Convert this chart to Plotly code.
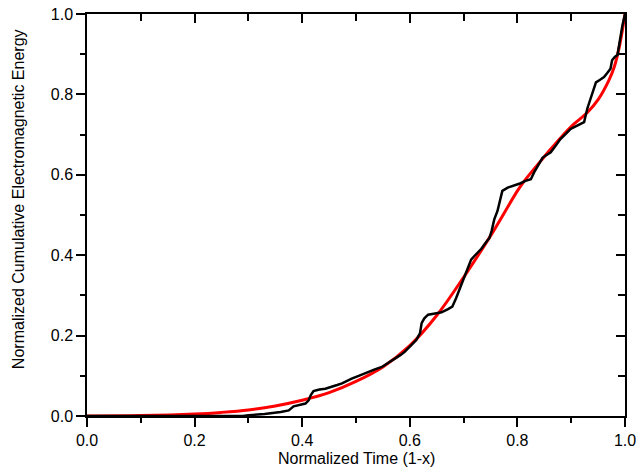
import plotly.graph_objects as go

# Red fitted curve
fit_x = [0.0, 0.1, 0.2, 0.25, 0.3, 0.35, 0.4, 0.45, 0.5, 0.55, 0.6, 0.65, 0.7,
         0.75, 0.8, 0.813, 0.85, 0.862, 0.9, 0.93, 0.95, 0.97, 0.98, 0.99, 1.0]
fit_y = [0.0, 0.001, 0.005, 0.009, 0.015, 0.025, 0.039, 0.058, 0.086, 0.122, 0.175, 0.25, 0.345,
         0.448, 0.56, 0.585, 0.645, 0.664, 0.72, 0.755, 0.787, 0.835, 0.868, 0.922, 1.0]

obs_x = [0.0, 0.29, 0.30, 0.33, 0.36, 0.375, 0.384, 0.395, 0.406, 0.412, 0.416, 0.421,
         0.432, 0.443, 0.455, 0.465, 0.474, 0.483, 0.492, 0.505, 0.515, 0.523, 0.535,
         0.548, 0.558, 0.566, 0.572, 0.583, 0.591, 0.597, 0.605, 0.612, 0.619, 0.622,
         0.627, 0.634, 0.647, 0.659, 0.671, 0.679, 0.686, 0.692, 0.697, 0.702, 0.708,
         0.714, 0.72, 0.726, 0.733, 0.739, 0.748, 0.752, 0.757, 0.763, 0.768, 0.772,
         0.782, 0.794, 0.806, 0.815, 0.825, 0.831, 0.838, 0.847, 0.855, 0.862, 0.871,
         0.88, 0.89, 0.899, 0.912, 0.924, 0.93, 0.936, 0.942, 0.946, 0.953, 0.961,
         0.967, 0.973, 0.976, 0.981, 0.986, 0.991, 0.995, 1.0]
obs_y = [0.0, 0.0, 0.002, 0.005, 0.01, 0.014, 0.024, 0.027, 0.031, 0.039, 0.052, 0.062,
         0.066, 0.068, 0.072, 0.077, 0.081, 0.088, 0.093, 0.1, 0.106, 0.11, 0.116,
         0.122, 0.13, 0.137, 0.143, 0.152, 0.16, 0.168, 0.178, 0.189, 0.206, 0.231,
         0.243, 0.252, 0.255, 0.258, 0.266, 0.272, 0.293, 0.314, 0.33, 0.348, 0.37,
         0.389, 0.398, 0.406, 0.416, 0.427, 0.443, 0.46, 0.489, 0.51, 0.535, 0.56,
         0.568, 0.573, 0.579, 0.585, 0.589, 0.606, 0.622, 0.643, 0.65, 0.656, 0.672,
         0.689, 0.702, 0.714, 0.723, 0.731, 0.765, 0.79, 0.815, 0.83, 0.836, 0.843,
         0.853, 0.864, 0.885, 0.893, 0.898, 0.944, 0.97, 1.0]

tick_vals = [0.0, 0.2, 0.4, 0.6, 0.8, 1.0]
tick_text = ["0.0", "0.2", "0.4", "0.6", "0.8", "1.0"]

FONT = "Liberation Sans, Arial, sans-serif"

fig = go.Figure()
fig.add_trace(go.Scatter(x=fit_x, y=fit_y, mode="lines", line=dict(color="#ff0000", width=3),
                         line_shape="spline", showlegend=False, hoverinfo="skip"))
fig.add_trace(go.Scatter(x=obs_x, y=obs_y, mode="lines", line=dict(color="black", width=2.5),
                         showlegend=False, hoverinfo="skip"))
# helper trace for the mirrored top/right axes
fig.add_trace(go.Scatter(x=[None], y=[None], xaxis="x2", yaxis="y2", showlegend=False,
                         hoverinfo="skip"))

common = dict(range=[0, 1], showgrid=False, zeroline=False, showline=True, linecolor="black",
              linewidth=1.5, tickcolor="black", tickwidth=1.5, tickvals=tick_vals)

fig.update_layout(
    width=640, height=475,
    margin=dict(l=87, r=4, t=14, b=59),
    paper_bgcolor="white", plot_bgcolor="white",
    font=dict(family=FONT, size=16, color="black"),
    xaxis=dict(**common, ticks="outside", ticklen=9, ticktext=tick_text,
               tickfont=dict(size=16), ticklabeloverflow="allow",
               minor=dict(dtick=0.1, tick0=0, ticks="outside", ticklen=5,
                          tickcolor="black", tickwidth=1.5, showgrid=False)),
    yaxis=dict(**common, ticks="outside", ticklen=9, ticktext=tick_text,
               tickfont=dict(size=16), ticklabeloverflow="allow",
               minor=dict(dtick=0.1, tick0=0, ticks="outside", ticklen=5,
                          tickcolor="black", tickwidth=1.5, showgrid=False)),
    xaxis2=dict(**common, overlaying="x", side="top", ticks="inside", ticklen=9,
                showticklabels=False,
                minor=dict(dtick=0.1, tick0=0, ticks="inside", ticklen=7,
                           tickcolor="black", tickwidth=1.5, showgrid=False)),
    yaxis2=dict(**common, overlaying="y", side="right", ticks="inside", ticklen=9,
                showticklabels=False,
                minor=dict(dtick=0.1, tick0=0, ticks="inside", ticklen=7,
                           tickcolor="black", tickwidth=1.5, showgrid=False)),
    annotations=[
        dict(text="Normalized Time (1-x)", xref="paper", yref="paper", x=0.5, y=-0.105,
             xanchor="center", yanchor="middle", showarrow=False,
             font=dict(family=FONT, size=16, color="black")),
        dict(text="Normalized Cumulative Electromagnetic Energy", xref="paper", yref="paper",
             x=-0.126, y=0.54, xanchor="center", yanchor="middle", textangle=-90,
             showarrow=False, font=dict(family=FONT, size=16, color="black")),
    ],
)

fig.write_html(
    "out.html",
    config={"displayModeBar": False},
    post_script="document.body.style.margin='0';document.body.style.overflow='hidden';",
)
